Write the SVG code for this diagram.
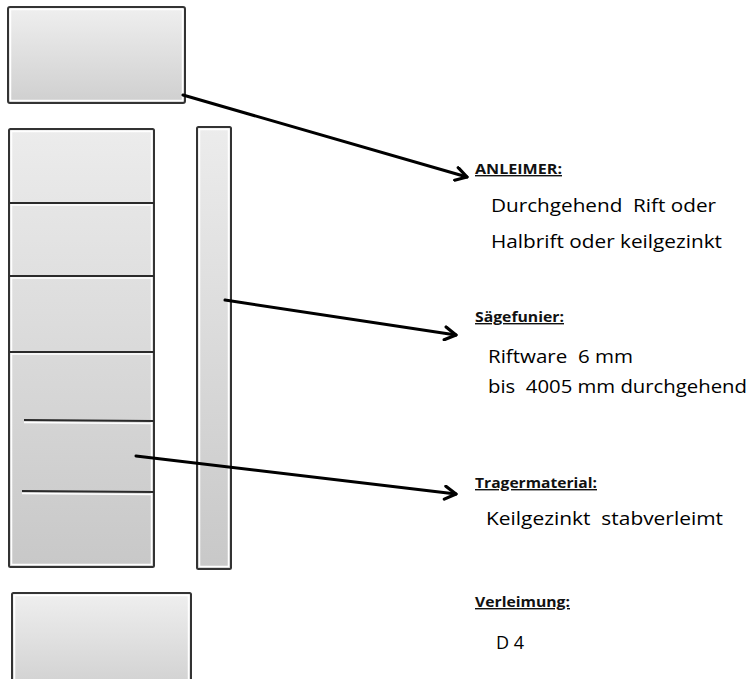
<svg xmlns="http://www.w3.org/2000/svg" width="755" height="679" viewBox="0 0 755 679" xml:space="preserve">
<style>
.box{stroke:#333;stroke-width:2;}
.hl{fill:none;stroke:#fff;stroke-width:1.5;}
.div{stroke:#2a2a2a;stroke-width:2;}
.divhl{stroke:#fff;stroke-width:1.5;}
.conn{fill:none;stroke:#000;stroke-width:3;stroke-linecap:round;}
.head{font-family:"Open Sans","Liberation Sans",sans-serif;font-weight:bold;font-size:14px;fill:#111;text-decoration:underline;}
.body{font-family:"Open Sans","Liberation Sans",sans-serif;font-size:18px;fill:#000;white-space:pre;}
</style>
<defs>
<linearGradient id="g" x1="0" y1="0" x2="0" y2="1">
<stop offset="0" stop-color="#efefef"/>
<stop offset="1" stop-color="#cfcfcf"/>
</linearGradient>
<linearGradient id="g2" x1="0" y1="0" x2="0" y2="1">
<stop offset="0" stop-color="#ececec"/>
<stop offset="1" stop-color="#c8c8c8"/>
</linearGradient>
<marker id="arr" viewBox="0 0 16 16" refX="13" refY="8" markerWidth="16" markerHeight="16" markerUnits="userSpaceOnUse" orient="auto">
<polyline points="2,1.5 13,8 2,14.5" fill="none" stroke="#000" stroke-width="3.2" stroke-linecap="round" stroke-linejoin="round"/>
</marker>
</defs>
<g id="top-block">
<rect class="box" x="8" y="7" width="177" height="96" rx="2" fill="url(#g)"/>
<rect class="hl" x="10.5" y="9.5" width="172" height="91"/>
</g>
<g id="core-block">
<rect class="box" x="9" y="129" width="145" height="438" rx="1.5" fill="url(#g2)"/>
<rect class="hl" x="11.5" y="131.5" width="140" height="433"/>
<line class="div" x1="10" y1="203" x2="154" y2="203"/>
<line class="divhl" x1="12" y1="205" x2="152" y2="205"/>
<line class="div" x1="10" y1="276" x2="154" y2="276"/>
<line class="divhl" x1="12" y1="278" x2="152" y2="278"/>
<line class="div" x1="10" y1="352" x2="154" y2="352"/>
<line class="divhl" x1="12" y1="354" x2="152" y2="354"/>
<line class="div" x1="24" y1="420" x2="154" y2="421"/>
<line class="divhl" x1="24" y1="422.5" x2="152" y2="423.5"/>
<line class="div" x1="22" y1="491" x2="154" y2="492"/>
<line class="divhl" x1="22" y1="493.5" x2="152" y2="494.5"/>
</g>
<g id="veneer-strip">
<rect class="box" x="197" y="127" width="34" height="442" rx="1.5" fill="url(#g2)"/>
<rect class="hl" x="199.5" y="129.5" width="29" height="437"/>
</g>
<g id="bottom-block">
<rect class="box" x="12" y="593" width="179" height="100" rx="1.5" fill="url(#g)"/>
<rect class="hl" x="14.5" y="595.5" width="174" height="95"/>
</g>
<g id="connectors">
<line class="conn" x1="183" y1="95" x2="467" y2="177" marker-end="url(#arr)"/>
<line class="conn" x1="225" y1="300" x2="456" y2="335" marker-end="url(#arr)"/>
<line class="conn" x1="136" y1="456" x2="456" y2="494" marker-end="url(#arr)"/>
</g>
<g id="label-anleimer">
<text class="head" x="475" y="174" textLength="87" lengthAdjust="spacingAndGlyphs">ANLEIMER:</text>
<text class="body" x="491" y="212" textLength="225" lengthAdjust="spacingAndGlyphs">Durchgehend  Rift oder</text>
<text class="body" x="491" y="248" textLength="231" lengthAdjust="spacingAndGlyphs">Halbrift oder keilgezinkt</text>
</g>
<g id="label-saegefunier">
<text class="head" x="475" y="322" textLength="89" lengthAdjust="spacingAndGlyphs">Sägefunier:</text>
<text class="body" x="488" y="363" textLength="145" lengthAdjust="spacingAndGlyphs">Riftware  6 mm</text>
<text class="body" x="488" y="393" textLength="259" lengthAdjust="spacingAndGlyphs">bis  4005 mm durchgehend</text>
</g>
<g id="label-traeger">
<text class="head" x="475" y="488" textLength="122" lengthAdjust="spacingAndGlyphs">Tragermaterial:</text>
<text class="body" x="486" y="525" textLength="237" lengthAdjust="spacingAndGlyphs">Keilgezinkt  stabverleimt</text>
</g>
<g id="label-verleimung">
<text class="head" x="475" y="607" textLength="95" lengthAdjust="spacingAndGlyphs">Verleimung:</text>
<text class="body" x="496" y="649">D 4</text>
</g>
</svg>
